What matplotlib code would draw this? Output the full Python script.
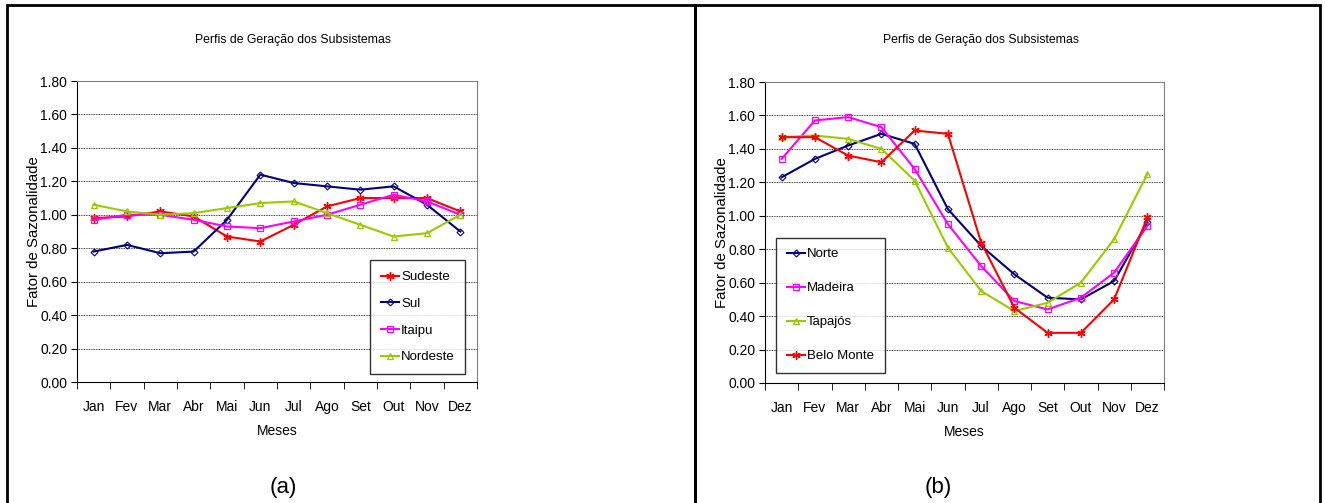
import matplotlib
matplotlib.use("Agg")
import matplotlib.pyplot as plt
from matplotlib.patches import Rectangle
import numpy as np

plt.rcParams['font.family'] = ['Liberation Sans', 'DejaVu Sans']

meses = ["Jan", "Fev", "Mar", "Abr", "Mai", "Jun", "Jul", "Ago", "Set", "Out", "Nov", "Dez"]
yticks = [0.0, 0.2, 0.4, 0.6, 0.8, 1.0, 1.2, 1.4, 1.6, 1.8]

# painel (a)
sudeste = [0.98, 0.99, 1.02, 0.99, 0.87, 0.84, 0.94, 1.05, 1.10, 1.10, 1.10, 1.02]
sul = [0.78, 0.82, 0.77, 0.78, 0.97, 1.24, 1.19, 1.17, 1.15, 1.17, 1.06, 0.90]
itaipu = [0.97, 1.00, 1.00, 0.97, 0.93, 0.92, 0.96, 1.00, 1.06, 1.12, 1.08, 1.00]
nordeste = [1.06, 1.02, 1.00, 1.01, 1.04, 1.07, 1.08, 1.01, 0.94, 0.87, 0.89, 1.00]

# painel (b)
norte = [1.23, 1.34, 1.42, 1.49, 1.43, 1.04, 0.82, 0.65, 0.51, 0.50, 0.61, 0.96]
madeira = [1.34, 1.57, 1.59, 1.53, 1.28, 0.95, 0.70, 0.49, 0.44, 0.51, 0.66, 0.94]
tapajos = [1.47, 1.48, 1.46, 1.40, 1.21, 0.81, 0.55, 0.43, 0.48, 0.60, 0.86, 1.25]
belo_monte = [1.47, 1.47, 1.36, 1.32, 1.51, 1.49, 0.84, 0.45, 0.30, 0.30, 0.50, 0.99]

RED = "#ff0000"
NAVY = "#000080"
MAGENTA = "#ff00ff"
LIME = "#99cc00"

asterisk = (6, 2, 0)
styles = {
    "Sudeste": dict(color=RED, marker=asterisk, ms=6, mew=1.0),
    "Belo Monte": dict(color=RED, marker=asterisk, ms=6, mew=1.0),
    "Sul": dict(color=NAVY, marker="D", ms=3.5, mfc="none", mew=0.8),
    "Norte": dict(color=NAVY, marker="D", ms=3.5, mfc="none", mew=0.8),
    "Itaipu": dict(color=MAGENTA, marker="s", ms=5, mfc="none", mew=0.9),
    "Madeira": dict(color=MAGENTA, marker="s", ms=5, mfc="none", mew=0.9),
    "Nordeste": dict(color=LIME, marker="^", ms=5, mfc="none", mew=0.9),
    "Tapajós": dict(color=LIME, marker="^", ms=5, mfc="none", mew=0.9),
}

W, H = 1325, 503
fig = plt.figure(figsize=(W / 100, H / 100), dpi=100)

# molduras dos paineis
fig.patches.append(Rectangle((7 / W, -0.1), (695 - 7) / W, 1.1 - 5 / H, transform=fig.transFigure,
                             fill=False, ec="black", lw=2, zorder=0))
fig.patches.append(Rectangle((695 / W, -0.1), (1320 - 695) / W, 1.1 - 5 / H, transform=fig.transFigure,
                             fill=False, ec="black", lw=2, zorder=0))


def make_panel(rect, series, leg_bbox, spacing, letter, letter_x, title_x):
    ax = fig.add_axes(rect)
    x = np.arange(len(meses))
    for name, vals in series:
        ax.plot(x, vals, lw=1.5, label=name, **styles[name])
    ax.set_xlim(-0.5, len(meses) - 0.5)
    ax.set_ylim(0, 1.8)
    ax.set_yticks(yticks)
    ax.set_yticklabels(["%.2f" % v for v in yticks], fontsize=10)
    ax.set_xticks(x)
    ax.set_xticklabels(meses, fontsize=10)
    ax.set_xticks(np.arange(-0.5, len(meses)), minor=True)
    ax.tick_params(axis="x", which="major", length=0, pad=13)
    ax.tick_params(axis="x", which="minor", length=5, direction="out")
    ax.tick_params(axis="y", length=4, direction="out", pad=3)
    ax.grid(axis="y", color="black", ls=(0, (1, 1)), lw=0.6)
    ax.set_axisbelow(True)
    for s in ["top", "right"]:
        ax.spines[s].set_color("#808080")
    for s in ["left", "bottom"]:
        ax.spines[s].set_color("black")
    ax.set_xlabel("Meses", fontsize=10, labelpad=7)
    ax.set_ylabel("Fator de Sazonalidade", fontsize=10.8)
    ax.yaxis.set_label_coords(-0.09, 0.5)
    fig.text(title_x, 1 - 40 / H, "Perfis de Geração dos Subsistemas", fontsize=8.8,
             ha="center", va="center")
    leg = ax.legend(loc="lower left", bbox_to_anchor=leg_bbox, fontsize=9.5, frameon=True,
                    fancybox=False, edgecolor="black", handlelength=1.4, handletextpad=0.15,
                    labelspacing=spacing, borderpad=0.8, borderaxespad=0)
    leg.get_frame().set_linewidth(1.0)
    fig.text(letter_x, 1 - 488 / H, letter, fontsize=16, ha="center", va="center")
    return ax


make_panel([77 / W, 1 - 382 / H, 400 / W, 301 / H],
           [("Sudeste", sudeste), ("Sul", sul), ("Itaipu", itaipu), ("Nordeste", nordeste)],
           ((370 - 77) / 400, 8 / 301), 1.1, "(a)", 283 / W, 293 / W)
make_panel([765 / W, 1 - 383 / H, 399 / W, 301 / H],
           [("Norte", norte), ("Madeira", madeira), ("Tapajós", tapajos), ("Belo Monte", belo_monte)],
           ((776 - 765) / 399, 10 / 301), 1.65, "(b)", 938 / W, 981 / W)

fig.savefig("out.png", dpi=100)
